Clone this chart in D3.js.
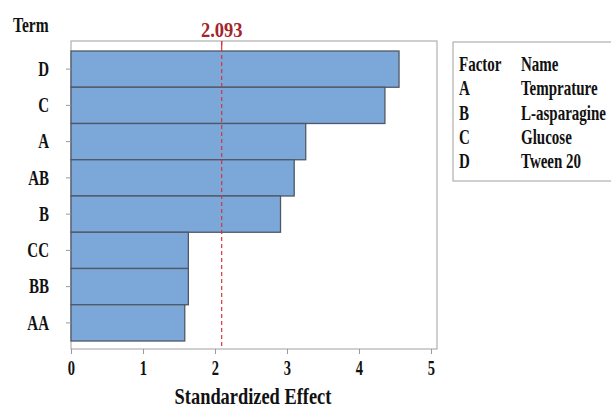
<!DOCTYPE html>
<html><head><meta charset="utf-8">
<script src="https://cdn.jsdelivr.net/npm/d3@7"></script>
<style>body{margin:0;background:#fff}svg{display:block}</style>
</head><body>
<svg id="c" width="611" height="410"></svg>
<script>
const terms = ["D","C","A","AB","B","CC","BB","AA"];
const effects = [4.556, 4.36, 3.26, 3.10, 2.91, 1.63, 1.63, 1.58];
const xTicks = [0,1,2,3,4,5];
const refValue = 2.093;
const factors = ["A","B","C","D"];
const names = ["Temprature","L-asparagine","Glucose","Tween 20"];

const svg = d3.select("#c");
const font = "'Liberation Serif','Times New Roman',serif";
const L=71, R=437, T=41, B=349;
const x = d3.scaleLinear().domain([0,5]).range([L, L+360]);
const y = d3.scaleBand().domain(terms).range([51, 341]).padding(0);

function stext(g, tx, ty, size, sy, str, anchor, fill){
  return g.append("text").attr("transform",`translate(${tx},${ty}) scale(1,${sy})`)
    .attr("text-anchor",anchor||"start").attr("font-family",font).attr("font-weight","bold")
    .attr("font-size",size).attr("fill",fill||"#111").text(str);
}

// frame
svg.append("rect").attr("x",L).attr("y",T).attr("width",R-L).attr("height",B-T)
  .attr("fill","none").attr("stroke","#a0a0a0").attr("stroke-width",1);

// bars
svg.selectAll("rect.bar").data(terms).enter().append("rect").attr("class","bar")
  .attr("x",x(0)).attr("y",d=>y(d))
  .attr("width",(d,i)=>x(effects[i])-x(0)).attr("height",y.bandwidth())
  .attr("fill","#7ba7d9").attr("stroke","#4f5966").attr("stroke-width",1.3);

// y axis
const ya = svg.append("g").attr("transform",`translate(${L},0)`)
  .call(d3.axisLeft(y).tickSize(5).tickPadding(17));
ya.select(".domain").remove();
ya.selectAll("line").attr("stroke","#999");
ya.selectAll("text").attr("font-family",font).attr("font-weight","bold").attr("font-size",15).attr("fill","#111")
  .attr("transform","scale(1,1.4)");

// x axis
const xa = svg.append("g").attr("transform",`translate(0,${B})`)
  .call(d3.axisBottom(x).tickValues(xTicks).tickFormat(d3.format("d")).tickSize(5).tickPadding(8));
xa.select(".domain").remove();
xa.selectAll("line").attr("stroke","#999");
xa.selectAll("text").attr("font-family",font).attr("font-weight","bold").attr("font-size",14.5).attr("fill","#111")
  .attr("y",0).attr("dy",0).attr("transform","translate(0,26) scale(1,1.45)");

// reference line
svg.append("line").attr("x1",x(refValue)).attr("x2",x(refValue)).attr("y1",T).attr("y2",B)
  .attr("stroke","#d9343a").attr("stroke-width",1.2).attr("stroke-dasharray","4,3");
svg.append("line").attr("x1",x(refValue)).attr("x2",x(refValue)).attr("y1",T).attr("y2",T+7)
  .attr("stroke","#d9343a").attr("stroke-width",1.2);
stext(svg, x(refValue), 37, 18.5, 1.15, refValue, "middle", "#a3242b");

// titles
stext(svg, 13, 32, 15.5, 1.3, "Term");
stext(svg, 253, 404, 18.4, 1.2, "Standardized Effect", "middle");

// legend
svg.append("rect").attr("x",453).attr("y",42).attr("width",170).attr("height",139)
  .attr("fill","#fff").attr("stroke","#a0a0a0").attr("stroke-width",1);
const rowY = d3.scalePoint().domain(d3.range(5)).range([71,168]);
const lg = svg.append("g");
stext(lg, 459, rowY(0), 15, 1.4, "Factor");
stext(lg, 521, rowY(0), 15, 1.4, "Name");
factors.forEach((f,i)=>{
  stext(lg, 459, rowY(i+1), 15, 1.4, f);
  stext(lg, 521, rowY(i+1), 15, 1.4, names[i]);
});
</script>
</body></html>
